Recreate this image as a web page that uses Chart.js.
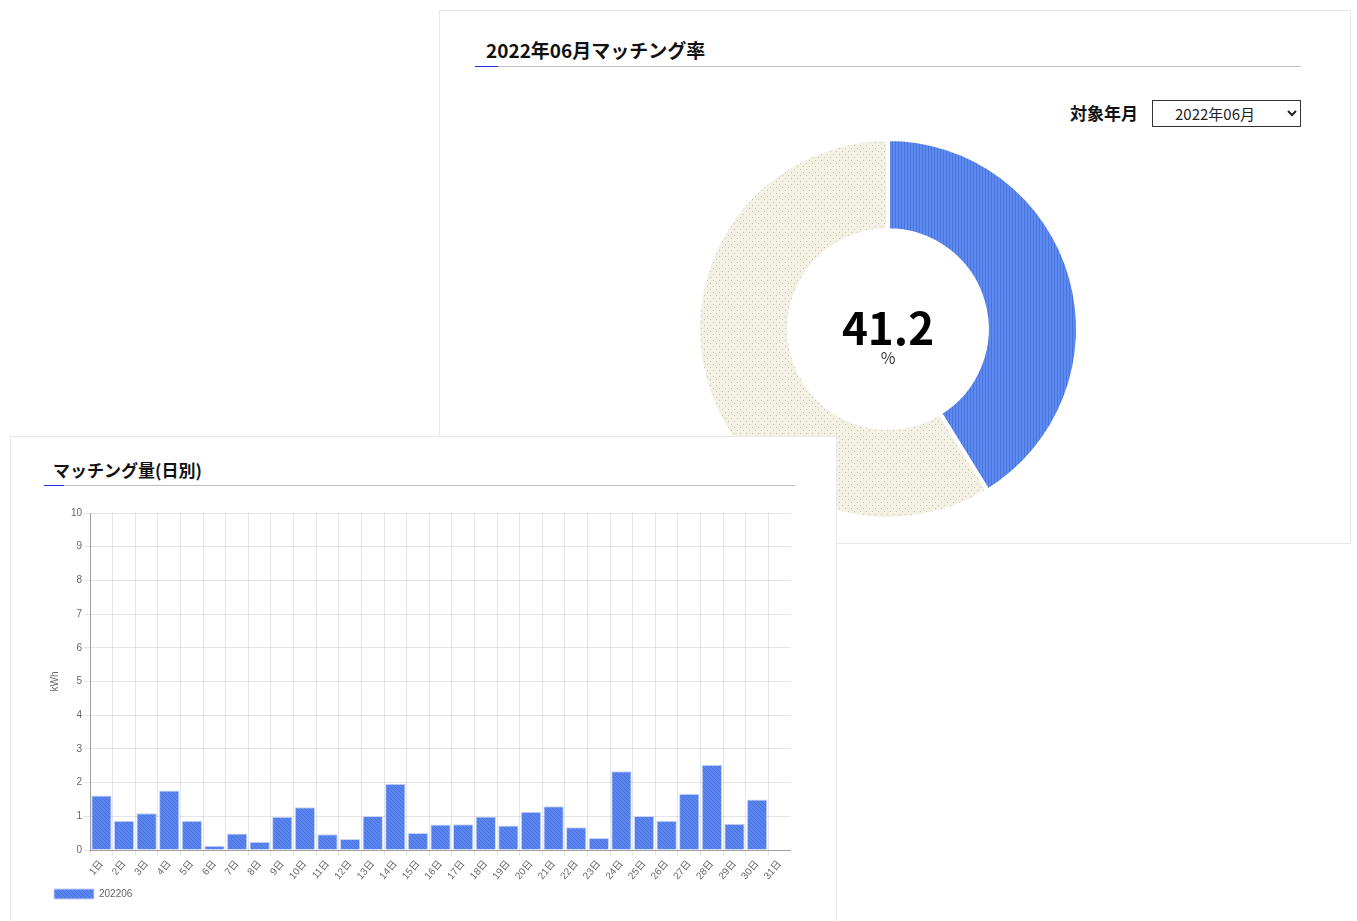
<!DOCTYPE html>
<html lang="ja">
<head>
<meta charset="utf-8">
<script src="https://cdn.jsdelivr.net/npm/chart.js@4.4.1/dist/chart.umd.min.js"></script>
<style>
  html, body { margin: 0; padding: 0; background: #fff; width: 1357px; height: 921px; overflow: hidden; position: relative; font-family: "Noto Sans CJK JP", "Noto Sans", sans-serif; }
  .card { position: absolute; background: #fff; border: 1px solid #e8e8e8; box-sizing: border-box; }
  .abs { position: absolute; }
  .title { font-weight: bold; color: #111; white-space: nowrap; }
  .rule { position: absolute; height: 1px; background: #bdbdbd; }
  .rule-accent { position: absolute; height: 1px; background: #2233ee; }
  select { font-family: "Noto Sans CJK JP", sans-serif; font-size: 15px; color: #222; border: 1px solid #333; background: #fff; border-radius: 0; padding: 0 0 0 18px; }
</style>
</head>
<body>
<div class="card" id="rateCard" style="left:439px; top:10px; width:912px; height:534px; z-index:1;">
</div>
<div class="abs title" style="left:486px; top:37px; font-size:19px; line-height:26px; z-index:1;">2022年06月マッチング率</div>
<div class="rule" style="left:475px; top:66px; width:826px; z-index:1;"></div>
<div class="rule-accent" style="left:475px; top:66px; width:23px; z-index:1;"></div>
<div class="abs title" style="left:1070px; top:100px; font-size:17px; line-height:26px; z-index:1;">対象年月</div>
<select class="abs" style="left:1152px; top:100px; width:149px; height:27px; z-index:1;">
  <option>2022年06月</option>
</select>
<div class="abs" style="left:688px; top:129px; width:400px; height:400px; z-index:1;">
  <canvas id="donut" width="400" height="400"></canvas>
</div>
<div class="abs" style="left:788px; top:297px; width:200px; text-align:center; font-weight:bold; font-size:44px; line-height:58px; color:#000; z-index:1;">41.2</div>
<div class="abs" style="left:788px; top:347px; width:200px; text-align:center; font-size:16px; line-height:20px; color:#333; z-index:1;">%</div>

<div class="card" id="barCard" style="left:10px; top:436px; width:827px; height:500px; z-index:2;">
  <div class="abs title" style="left:42px; top:21px; font-size:17px; line-height:24px;">マッチング量(日別)</div>
  <div class="rule" style="left:33px; top:48px; width:751px;"></div>
  <div class="rule-accent" style="left:33px; top:48px; width:20px;"></div>
  <div class="abs" style="left:30px; top:64px; width:750px; height:410px;">
    <canvas id="bars" width="750" height="410"></canvas>
  </div>
</div>

<script>
// ---- data ----
const rateLabels = ['マッチング', '未マッチング'];
const rateValues = [41.2, 58.8];

const dayLabels = ['1日','2日','3日','4日','5日','6日','7日','8日','9日','10日','11日','12日','13日','14日','15日','16日','17日','18日','19日','20日','21日','22日','23日','24日','25日','26日','27日','28日','29日','30日','31日'];
const dailyValues = [1.62,0.87,1.09,1.77,0.87,0.13,0.49,0.25,0.99,1.27,0.47,0.33,1.01,1.97,0.51,0.76,0.77,1.00,0.73,1.14,1.30,0.68,0.36,2.34,1.01,0.87,1.67,2.53,0.78,1.50,null];
const seriesName = '202206';
const yTicks = [0,1,2,3,4,5,6,7,8,9,10];

// ---- patterns ----
function makePattern(w, h, draw) {
  const c = document.createElement('canvas');
  c.width = w; c.height = h;
  const ctx = c.getContext('2d');
  draw(ctx, w, h);
  return ctx.createPattern(c, 'repeat');
}
const blueStripes = makePattern(3, 3, (ctx, w, h) => {
  ctx.fillStyle = '#5d8af0'; ctx.fillRect(0, 0, w, h);
  ctx.fillStyle = '#4a74dc'; ctx.fillRect(0, 0, 1, h);
});
const beigeDots = makePattern(6, 6, (ctx, w, h) => {
  ctx.fillStyle = '#f4f1e4'; ctx.fillRect(0, 0, w, h);
  ctx.fillStyle = '#b8c2b4';
  ctx.fillRect(1, 1, 1, 1);
  ctx.fillRect(4, 4, 1, 1);
});
const barDiag = makePattern(4, 4, (ctx, w, h) => {
  ctx.fillStyle = '#5a85ef'; ctx.fillRect(0, 0, w, h);
  ctx.fillStyle = '#4a73df';
  for (let i = 0; i < 4; i++) ctx.fillRect(i, i, 1, 1);
});

Chart.defaults.font.family = '"Liberation Sans", Arial, "Noto Sans CJK JP", sans-serif';
Chart.defaults.color = '#666';

new Chart(document.getElementById('donut'), {
  type: 'doughnut',
  data: {
    labels: rateLabels,
    datasets: [{
      data: rateValues,
      backgroundColor: [blueStripes, beigeDots],
      borderColor: '#ffffff',
      borderWidth: 4,
      hoverOffset: 0
    }]
  },
  options: {
    responsive: false,
    animation: false,
    cutout: '52%',
    layout: { padding: 8 },
    plugins: { legend: { display: false }, tooltip: { enabled: false } }
  }
});

new Chart(document.getElementById('bars'), {
  type: 'bar',
  data: {
    labels: dayLabels,
    datasets: [{
      label: seriesName,
      data: dailyValues,
      backgroundColor: barDiag,
      borderColor: '#c8d5f7',
      borderWidth: 1,
      barPercentage: 0.9,
      categoryPercentage: 1.0
    }]
  },
  options: {
    responsive: false,
    animation: false,
    layout: { padding: { left: 8, right: 0, top: 12, bottom: 2 } },
    scales: {
      x: {
        grid: { color: 'rgba(0,0,0,0.1)', offset: true, tickLength: 6 },
        border: { color: 'rgba(0,0,0,0.3)' },
        ticks: { font: { size: 10 }, minRotation: 50, maxRotation: 50, autoSkip: false, padding: 2 }
      },
      y: {
        min: 0, max: 10,
        afterBuildTicks: (axis) => { axis.ticks = yTicks.map(v => ({ value: v })); },
        grid: { color: 'rgba(0,0,0,0.1)', tickLength: 6 },
        border: { color: 'rgba(0,0,0,0.3)' },
        ticks: { font: { size: 10 }, padding: 2 },
        title: { display: true, text: 'kWh', font: { size: 10 }, padding: { top: 0, bottom: 8 } }
      }
    },
    plugins: {
      legend: {
        position: 'bottom',
        align: 'start',
        labels: { boxWidth: 40, boxHeight: 10, font: { size: 10 }, padding: 5 }
      },
      tooltip: { enabled: false }
    }
  }
});
</script>
</body>
</html>
